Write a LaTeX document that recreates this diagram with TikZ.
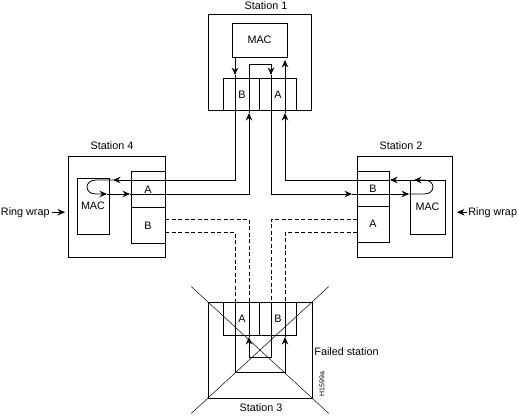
\documentclass[tikz,border=0pt]{standalone}
\usepackage{fontspec}
\setmainfont{Liberation Sans}
\usetikzlibrary{arrows.meta,calc}

\begin{document}
\begin{tikzpicture}[x=1pt,y=-1pt,line width=0.8pt,
  box/.style={rectangle,draw=black,inner sep=0pt,outer sep=0pt,font=\fontsize{10.8}{12}\selectfont},
  lbl/.style={inner sep=0pt,font=\fontsize{10.8}{12}\selectfont},
  arr/.style={-{Stealth[length=7.5pt,width=6.5pt,inset=2.5pt]}},
  wire/.style={dash pattern=on 4pt off 2.5pt},
  cross/.style={line width=0.5pt}]

\useasboundingbox (0,0) rectangle (519,417);

\node[box,minimum width=103pt,minimum height=96pt] (st1) at (259.5,62) {};
\node[box,minimum width=95pt,minimum height=101pt] (st2) at (404.5,206.5) {};
\node[box,minimum width=104pt,minimum height=96pt] (st3) at (260,350) {};
\node[box,minimum width=97pt,minimum height=101pt] (st4) at (116.5,206.5) {};

\node[box,minimum width=55pt,minimum height=34pt] (mac1) at (259.5,40) {MAC};
\node[box,minimum width=35pt,minimum height=54pt] (mac2) at (427.5,207) {MAC};
\node[box,minimum width=32pt,minimum height=56pt] (mac4) at (93,206) {MAC};

\node[box,minimum width=73pt,minimum height=32pt] (port1) at (259.5,94) {};
\node[box,minimum width=32pt,minimum height=71pt] (port2) at (373,206.5) {};
\node[box,minimum width=73pt,minimum height=33pt] (port3) at (259.5,318.5) {};
\node[box,minimum width=34pt,minimum height=72pt] (port4) at (148,207) {};
\draw (port1.north) -- (port1.south);
\draw (port2.west) -- (port2.east);
\draw (port3.north) -- (port3.south);
\draw (port4.west) -- (port4.east);

\node[lbl] (p1b) at (242,95) {B};
\node[lbl] (p1a) at (278,95) {A};
\node[lbl] (p2b) at (373,189) {B};
\node[lbl] (p2a) at (373,224) {A};
\node[lbl] (p3a) at (242,319) {A};
\node[lbl] (p3b) at (278,319) {B};
\node[lbl] (p4a) at (148,190) {A};
\node[lbl] (p4b) at (148,226) {B};

\node[lbl] (t1) at (266,6) {Station 1};
\node[lbl] (t2) at (401,146) {Station 2};
\node[lbl] (t3) at (261,408) {Station 3};
\node[lbl] (t4) at (112,146) {Station 4};

\coordinate (m1o) at (235,57);
\coordinate (a1) at (235,75);
\coordinate (a2) at (113,180);
\coordinate (l4t) at (96,180);
\coordinate (l4b) at (96,194);
\coordinate (a3) at (107,194);
\coordinate (a4) at (130,194);
\coordinate (a5) at (249,113);
\coordinate (lp2) at (271,64);
\coordinate (a6) at (271,75);
\coordinate (a7) at (352,194);
\coordinate (a8) at (409,194);
\coordinate (l2b) at (424,194);
\coordinate (l2t) at (424,180);
\coordinate (a9) at (414,180);
\coordinate (a10) at (390,180);
\coordinate (a11) at (285,113);
\coordinate (a12) at (285,60);

\draw[arr] (m1o) -- (a1);
\draw[arr] (a1) |- (a2);
\draw[arr] (a2) -- (l4t) .. controls +(-12,0) and +(-12,0) .. (l4b) -- (a3);
\draw[arr] (a3) -- (a4);
\draw[arr] (a4) -| (a5);
\draw[arr] (a5) |- (lp2) -- (a6);
\draw[arr] (a6) |- (a7);
\draw[arr] (a7) -- (a8);
\draw[arr] (a8) -- (l2b) .. controls +(12,0) and +(12,0) .. (l2t) -- (a9);
\draw[arr] (a9) -- (a10);
\draw[arr] (a10) -| (a11);
\draw[arr] (a11) -- (a12);

\coordinate (d4i) at (165,219);
\coordinate (d4o) at (165,232);
\coordinate (d2i) at (357,219);
\coordinate (d2o) at (357,232);
\coordinate (s3il) at (249,302);
\coordinate (s3ir) at (271,302);
\coordinate (s3ol) at (235,302);
\coordinate (s3or) at (285,302);
\coordinate (k1) at (271,357);
\coordinate (k2) at (235,372);
\coordinate (b1) at (249,337);
\coordinate (b2) at (285,337);

\draw[wire] (d4i) -| (s3il);
\draw[wire] (d4o) -| (s3ol);
\draw[wire] (d2i) -| (s3ir);
\draw[wire] (d2o) -| (s3or);
\draw[arr] (s3ir) -- (k1) -| (b1);
\draw (b1) -- (s3il);
\draw[arr] (s3ol) -- (k2) -| (b2);
\draw (b2) -- (s3or);

\draw[cross] ($(st3.north west)!-0.16!(st3.south east)$) -- ($(st3.south east)!-0.16!(st3.north west)$);
\draw[cross] ($(st3.north east)!-0.16!(st3.south west)$) -- ($(st3.south west)!-0.16!(st3.north east)$);

\node[lbl,anchor=base east] (rw4) at (50,215) {Ring wrap};
\node[lbl,anchor=base west] (rw2) at (468,215) {Ring wrap};
\draw[arr,shorten >=3pt] ([xshift=2pt]rw4.east) -- (rw4.east -| st4.west);
\draw[arr,shorten >=5pt] ([xshift=-1pt]rw2.west) -- (rw2.west -| st2.east);

\node[lbl,anchor=base west] (fail) at (314,355) {Failed station};
\node[lbl,rotate=90,font=\fontsize{7}{8}\selectfont] (code) at (322,384) {H1599a};

\end{tikzpicture}
\end{document}
